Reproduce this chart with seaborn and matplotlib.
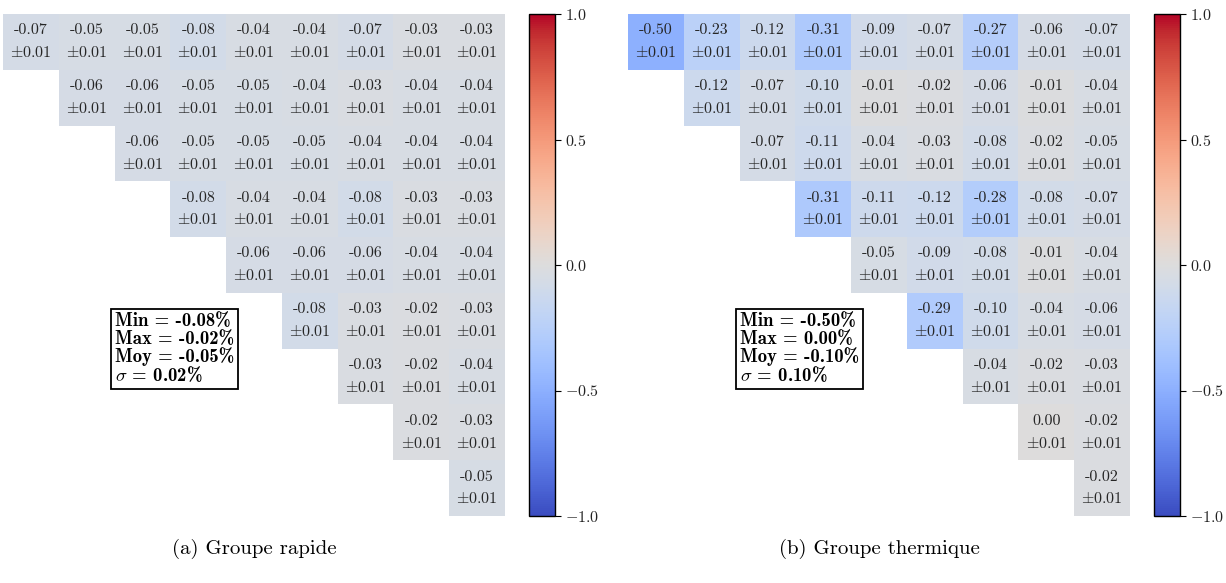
import numpy as np
import pandas as pd
import seaborn as sns
import matplotlib
matplotlib.use("Agg")
import matplotlib.pyplot as plt

sns.set_theme(style="white")
plt.rcParams["font.family"] = ["cmr10", "DejaVu Serif"]
plt.rcParams["mathtext.fontset"] = "cm"
plt.rcParams["axes.formatter.use_mathtext"] = True
plt.rcParams["axes.unicode_minus"] = True

# ---- data (upper triangle rows, starting on the diagonal) ----
rapide_rows = [
    [-0.07, -0.05, -0.05, -0.08, -0.04, -0.04, -0.07, -0.03, -0.03],
    [-0.06, -0.06, -0.05, -0.05, -0.04, -0.03, -0.04, -0.04],
    [-0.06, -0.05, -0.05, -0.05, -0.04, -0.04, -0.04],
    [-0.08, -0.04, -0.04, -0.08, -0.03, -0.03],
    [-0.06, -0.06, -0.06, -0.04, -0.04],
    [-0.08, -0.03, -0.02, -0.03],
    [-0.03, -0.02, -0.04],
    [-0.02, -0.03],
    [-0.05],
]
thermique_rows = [
    [-0.50, -0.23, -0.12, -0.31, -0.09, -0.07, -0.27, -0.06, -0.07],
    [-0.12, -0.07, -0.10, -0.01, -0.02, -0.06, -0.01, -0.04],
    [-0.07, -0.11, -0.04, -0.03, -0.08, -0.02, -0.05],
    [-0.31, -0.11, -0.12, -0.28, -0.08, -0.07],
    [-0.05, -0.09, -0.08, -0.01, -0.04],
    [-0.29, -0.10, -0.04, -0.06],
    [-0.04, -0.02, -0.03],
    [0.00, -0.02],
    [-0.02],
]
uncertainty = 0.01
captions = ["(a) Groupe rapide", "(b) Groupe thermique"]
stats_rapide = ["-0.08", "-0.02", "-0.05", "0.02"]
stats_thermique = ["-0.50", "0.00", "-0.10", "0.10"]

n = 9


def build(rows):
    m = np.full((n, n), np.nan)
    for i, r in enumerate(rows):
        m[i, i:] = r
    return m


W, H = 1226, 583
fig = plt.figure(figsize=(W / 100, H / 100), dpi=100)

panels = [
    (build(rapide_rows), stats_rapide, captions[0], 3, 529),
    (build(thermique_rows), stats_thermique, captions[1], 628, 1154),
]

for mat, stats, cap, x0, cx0 in panels:
    ax = fig.add_axes([x0 / W, (H - 516) / H, 502 / W, 502 / H])
    cax = fig.add_axes([cx0 / W, (H - 516) / H, 26 / W, 502 / H])
    mask = np.isnan(mat)
    labels = np.empty((n, n), dtype=object)
    for i in range(n):
        for j in range(n):
            if mask[i, j]:
                labels[i, j] = ""
            else:
                v = mat[i, j]
                s = f"{v:.2f}"
                if s == "-0.00":
                    s = "0.00"
                labels[i, j] = s + "\n" + r"$\pm$" + f"{uncertainty:.2f}"
    df = pd.DataFrame(mat)
    sns.heatmap(df, mask=mask, cmap="coolwarm", vmin=-1, vmax=1,
                annot=labels, fmt="", ax=ax, cbar_ax=cax, square=False,
                annot_kws={"fontsize": 11.5, "color": "#262626", "linespacing": 1.65},
                xticklabels=False, yticklabels=False)
    ax.set_xlabel("")
    ax.set_ylabel("")
    cb = ax.collections[0].colorbar
    cb.outline.set_visible(True)
    cb.outline.set_linewidth(1.0)
    cb.outline.set_edgecolor("black")
    cb.set_ticks([-1, -0.5, 0, 0.5, 1])
    cb.ax.tick_params(labelsize=11.5, length=4, width=0.8, color="black",
                      labelcolor="#222222", pad=3, right=True, direction="out")
    for t in cb.ax.get_yticklabels():
        t.set_fontfamily(["cmr10", "DejaVu Serif"])

    txt = (f"Min = {stats[0]}%\nMax = {stats[1]}%\n"
           f"Moy = {stats[2]}%\n" + r"$\sigma$" + f" = {stats[3]}%")
    ax.text(2.0, 6.0, txt, ha="left", va="center", fontsize=13.5,
            fontfamily=["cmb10", "DejaVu Serif"], linespacing=0.95,
            color="black",
            bbox=dict(boxstyle="square,pad=0.2", facecolor="white",
                      edgecolor="black", linewidth=1.3))

    fig.text((x0 + 251) / W, (H - 549) / H, cap, ha="center", va="center",
             fontsize=15, color="black")

fig.savefig("out.png", dpi=100)
